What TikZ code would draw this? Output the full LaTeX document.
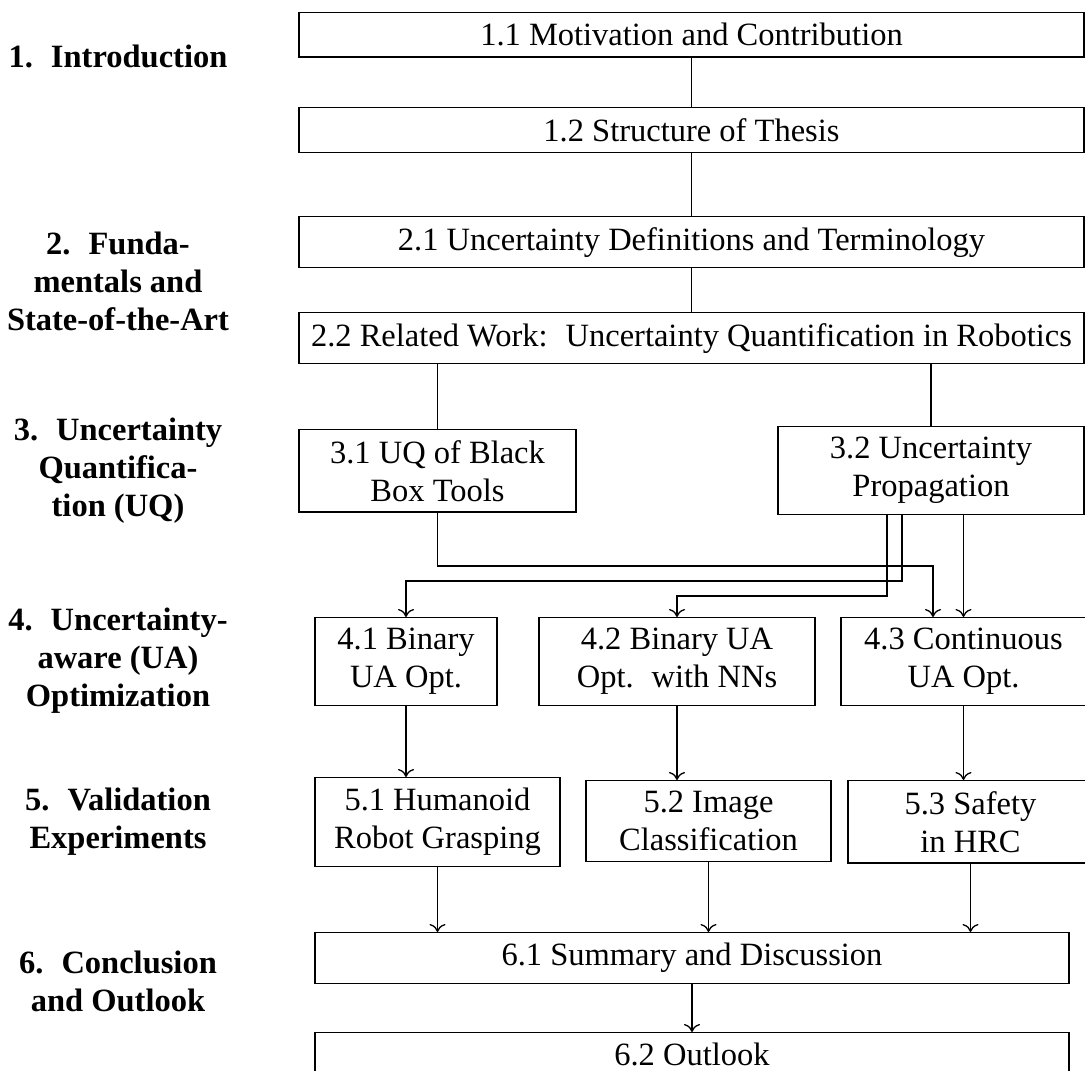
\documentclass[tikz,border=0pt]{standalone}
\usepackage{fontspec}
\setmainfont{Liberation Serif}
\usetikzlibrary{arrows.meta}
\newcommand{\wsp}{\hspace{0.22em} }
\begin{document}
\begin{tikzpicture}[x=1pt,y=-1pt,
  every node/.style={font=\fontsize{32.5}{38}\selectfont},
  box/.style={draw,line width=1.3pt,inner sep=10.6pt,align=center,anchor=north},
  lab/.style={align=center,font=\fontsize{32.5}{38}\selectfont\bfseries},
  con/.style={line width=1.3pt},
  arr/.style={line width=1.3pt,-{Computer Modern Rightarrow[length=8pt,width=16pt]}}]
\useasboundingbox (0,0) rectangle (1085,1071);
% boxes
\node[box,minimum width=785pt] (n11) at (691.5,12) {1.1 Motivation and Contribution};
\node[box,minimum width=785pt] (n12) at (691.5,107) {1.2 Structure of Thesis};
\node[box,minimum width=785pt] (n21) at (691.5,216) {2.1 Uncertainty Definitions and Terminology};
\node[box,minimum width=785pt] (n22) at (691.5,312) {2.2 Related Work:\wsp Uncertainty Quantification in Robotics};
\node[box,minimum width=277pt] (n31) at (437.5,429) {3.1 UQ of Black\\Box Tools};
\node[box,minimum width=306pt] (n32) at (931,426) {3.2 Uncertainty\\Propagation};
\node[box,minimum width=182pt] (n41) at (406,617) {4.1 Binary\\UA Opt.};
\node[box,minimum width=276pt] (n42) at (677,617) {4.2 Binary UA\\Opt.\wsp with NNs};
\node[box,minimum width=245pt] (n43) at (963.5,617) {4.3 Continuous\\UA Opt.};
\node[box,minimum width=245pt] (n51) at (437.5,777) {5.1 Humanoid\\Robot Grasping};
\node[box,minimum width=245pt] (n52) at (708.5,780) {5.2 Image\\Classification};
\node[box,minimum width=245pt] (n53) at (970.5,780) {5.3 Safety\\in HRC};
\node[box,minimum width=754pt] (n61) at (692,932) {6.1 Summary and Discussion};
\node[box,minimum width=754pt] (n62) at (692,1032) {6.2 Outlook};
% left labels
\node[lab] (l1) at (118,56) {1.\wsp Introduction};
\node[lab] (l2) at (118,281) {2.\wsp Funda-\\mentals and\\State-of-the-Art};
\node[lab] (l3) at (118,470.5) {3.\wsp Uncertainty\\Quantifica-\\tion (UQ)};
\node[lab] (l4) at (118,660.5) {4.\wsp Uncertainty-\\aware (UA)\\Optimization};
\node[lab] (l5) at (118,821.5) {5.\wsp Validation\\Experiments};
\node[lab] (l6) at (118,981.5) {6.\wsp Conclusion\\and Outlook};
% junction points
\coordinate (j1) at (933,566);
\coordinate (j2) at (902,581);
\coordinate (j3) at (887,596);
% connectors
\draw[con] (n11.south) -- (n12.north);
\draw[con] (n12.south) -- (n21.north);
\draw[con] (n21.south) -- (n22.north);
\draw[con] (n22.south -| n31.north) -- (n31.north);
\draw[con] (n22.south -| n32.north) -- (n32.north);
\draw[arr] (n31.south) |- (j1) -- (j1 |- n43.north);
\draw[arr] (n32.south -| j2) -- (j2) -| (n41.north);
\draw[arr] (n32.south -| j3) -- (j3) -| (n42.north);
\draw[arr] (n32.south -| n43.north) -- (n43.north);
\draw[arr] (n41.south) -- (n51.north -| n41.south);
\draw[arr] (n42.south) -- (n52.north -| n42.south);
\draw[arr] (n43.south) -- (n53.north -| n43.south);
\draw[arr] (n51.south) -- (n61.north -| n51.south);
\draw[arr] (n52.south) -- (n61.north -| n52.south);
\draw[arr] (n53.south) -- (n61.north -| n53.south);
\draw[arr] (n61.south) -- (n62.north);
\end{tikzpicture}
\end{document}
